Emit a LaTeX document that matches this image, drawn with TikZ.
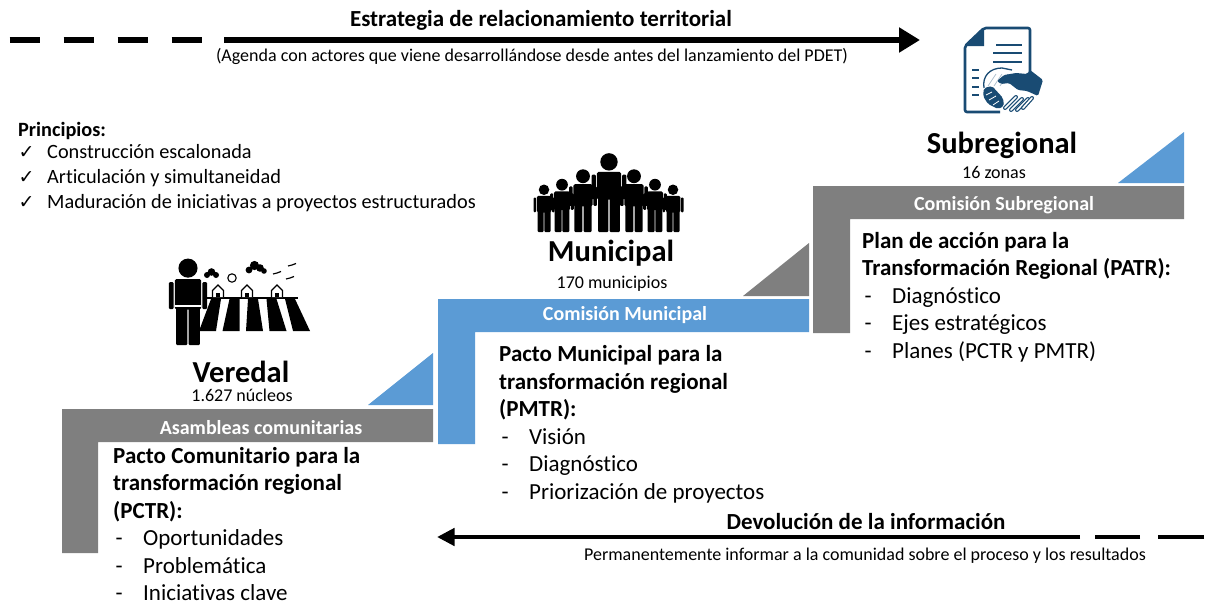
\documentclass[tikz,border=0pt]{standalone}
\usepackage{fontspec}
\setmainfont{Carlito}[Ligatures={NoCommon}]
\newfontfamily\symfont{DejaVu Sans}
\usetikzlibrary{arrows.meta}

\definecolor{stepblue}{HTML}{5B9BD5}
\definecolor{stepgray}{HTML}{7F7F7F}
\definecolor{docblue}{RGB}{25,75,115}

% list line: dash, then text
\newcommand{\itemline}[1]{\hspace*{2.5pt}\makebox[27.5pt][l]{-}#1}
\newcommand{\checkline}[1]{\makebox[29pt][l]{\hspace*{0.5pt}\symfont\fontsize{19}{19}\selectfont ✓}#1}

\tikzset{
  level/.style={anchor=base, inner sep=0pt, font=\bfseries\fontsize{30.5}{36}\selectfont},
  count/.style={anchor=base, inner sep=0pt, font=\fontsize{18}{22}\selectfont},
  barlabel/.style={anchor=base, inner sep=0pt, text=white, font=\bfseries\fontsize{20}{24}\selectfont},
  block/.style={anchor=base west, inner sep=0pt, font=\fontsize{23}{27.5}\selectfont},
  headline/.style={anchor=base, inner sep=0pt, font=\bfseries\fontsize{23}{27}\selectfont},
  subline/.style={anchor=base, inner sep=0pt, font=\fontsize{18}{22}\selectfont},
  person/.pic={
    \fill (0,-8.45) circle (1.05);
    \fill[rounded corners=1.5pt] (-1.45,-7.25) rectangle (1.45,-3.9);
    \fill[rounded corners=1pt] (-2.1,-6.9) rectangle (-1.58,-3.95);
    \fill[rounded corners=1pt] (1.58,-6.9) rectangle (2.1,-3.95);
    \fill[rounded corners=1pt] (-1.3,-4.2) rectangle (-0.08,0);
    \fill[rounded corners=1pt] (0.08,-4.2) rectangle (1.3,0);
  }
}

\begin{document}
\begin{tikzpicture}[x=1pt,y=-1pt]
    \useasboundingbox (0,0) rectangle (1205,605);

    % Steps
    \fill[stepgray] (62,409) -- (433,409) -- (433,442) -- (98,442) -- (98,553) -- (62,553) -- cycle;
    \fill[stepblue] (368,405) -- (433,405) -- (433,353) -- cycle;
    \fill[stepblue] (438,299) -- (809,299) -- (809,332) -- (475,332) -- (475,444) -- (438,444) -- cycle;
    \fill[stepgray] (743,296) -- (809,296) -- (809,243) -- cycle;
    \fill[stepgray] (813,186) -- (1184,186) -- (1184,219) -- (850,219) -- (850,333) -- (813,333) -- cycle;
    \fill[stepblue] (1118,183) -- (1184,183) -- (1184,132) -- cycle;

    % Bar labels
    \node[barlabel] (asambleas) at (261,434) {Asambleas comunitarias};
    \node[barlabel] (comMunicipal) at (625,320.5) {Comisión Municipal};
    \node[barlabel] (comSubregional) at (1004,210) {Comisión Subregional};

    % Levels
    \node[level] (veredal) at (241,382.5) {Veredal};
    \node[count] (veredalCount) at (242,401.5) {1.627 núcleos};
    \node[level] (municipal) at (611,261.5) {Municipal};
    \node[count] (municipalCount) at (612,288) {170 municipios};
    \node[level] (subregional) at (1002,153) {Subregional};
    \node[count] (subregionalCount) at (994,178) {16 zonas};

    % Blocks
    \node[block] (pctr) at (113,463) {\begin{tabular}[t]{@{}l@{}}
      \textbf{Pacto Comunitario para la}\\
      \textbf{transformación regional}\\
      \textbf{(PCTR):}\\
      \itemline{Oportunidades}\\
      \itemline{Problemática}\\
      \itemline{Iniciativas clave}
    \end{tabular}};
    \node[block] (pmtr) at (499,361.5) {\begin{tabular}[t]{@{}l@{}}
      \textbf{Pacto Municipal para la}\\
      \textbf{transformación regional}\\
      \textbf{(PMTR):}\\
      \itemline{Visión}\\
      \itemline{Diagnóstico}\\
      \itemline{Priorización de proyectos}
    \end{tabular}};
    \node[block] (patr) at (862,248) {\begin{tabular}[t]{@{}l@{}}
      \textbf{Plan de acción para la}\\
      \textbf{Transformación Regional (PATR):}\\
      \itemline{Diagnóstico}\\
      \itemline{Ejes estratégicos}\\
      \itemline{Planes (PCTR y PMTR)}
    \end{tabular}};

    % Principios
    \node[anchor=base west, inner sep=0pt, font=\fontsize{20.3}{25}\selectfont] (principios) at (18,136.5) {\begin{tabular}[t]{@{}l@{}}
      \textbf{Principios:}\\[-3pt]
      \checkline{Construcción escalonada}\\
      \checkline{Articulación y simultaneidad}\\
      \checkline{Maduración de iniciativas a proyectos estructurados}
    \end{tabular}};

    % Top arrow
    \coordinate (relStart) at (9.6,40);
    \coordinate (relDashEnd) at (202,40);
    \coordinate (relSolid) at (224,40);
    \coordinate (relEnd) at (920,40);
    \draw[line width=5.3pt, dash pattern=on 30.5pt off 23.5pt] (relStart) -- (relDashEnd);
    \draw[line width=5.3pt, -{Triangle[length=21pt,width=24pt]}] (relSolid) -- (relEnd);
    \node[headline] (estrategia) at (541,27) {Estrategia de relacionamiento territorial};
    \node[subline] (agenda) at (532,61) {(Agenda con actores que viene desarrollándose desde antes del lanzamiento del PDET)};

    % Bottom arrow
    \coordinate (devStart) at (1204,537);
    \coordinate (devDashEnd) at (1095,537);
    \coordinate (devSolid) at (1080,537);
    \coordinate (devEnd) at (437,537);
    \draw[line width=4.7pt, dash pattern=on 46.5pt off 17.5pt] (devStart) -- (devDashEnd);
    \draw[line width=4.7pt, -{Triangle[length=17.5pt,width=17pt]}] (devSolid) -- (devEnd);
    \node[headline] (devolucion) at (866,529) {Devolución de la información};
    \node[subline] (permanente) at (865,560) {Permanentemente informar a la comunidad sobre el proceso y los resultados};

    % Family icon
    \foreach \px/\r in {544/5.0, 562/5.6, 583/6.6, 609/8.3, 634/6.6, 655/5.6, 673/5.0}
      \pic[scale=\r] at (\px,232) {person};

    % Farmer and fields icon
    \pic[scale=9.1] at (188,345) {person};
    \draw[white, line width=1.2pt] (175,306) -- (201,306);
    \draw[line width=2pt] (206,298) -- (298,298);
    \foreach \i in {0,...,4}
      \fill ({211+18.5*\i},299) -- ({221+18.5*\i},299) -- ({216+23.5*\i},331) -- ({199+23.5*\i},331) -- cycle;
    \foreach \hx in {218,247,277} {
      \filldraw[fill=white, line width=1.4pt] ({\hx-5.5},297) -- ({\hx-5.5},290.5) -- (\hx,285) -- ({\hx+5.5},290.5) -- ({\hx+5.5},297);
      \fill ({\hx-1.8},292.5) rectangle ({\hx+1.8},297);
    }
    \draw[line width=1.1pt] (232,278) circle (4.2);
    \fill (207,275) circle (3) (211.5,272) circle (3.8) (216,275) circle (3);
    \fill (249,270) circle (3.4) (254.5,265.5) circle (4.6) (260,268) circle (3.8) (264,271) circle (2.8);
    \foreach \bx/\by in {292/265, 277/273, 290/278}
      \draw[line width=1.2pt] ({\bx-4},{\by+1}) -- (\bx,\by) -- ({\bx+4},{\by-1.5});

    % Document with handshake
    \draw[docblue, line width=2.6pt, rounded corners=2pt] (1000,112) -- (965,112) -- (965,46) -- (984,28) -- (1030,28) -- (1030,72);
    \fill[docblue] (965,46) -- (984,28) -- (984,46) -- cycle;
    \foreach \lx/\ly in {996/45, 993/53, 993/62}
      \draw[docblue, line width=2pt] (\lx,\ly) -- (1022,\ly);
    \foreach \ly in {70,78,87,95}
      \draw[docblue, line width=2pt] (972,\ly) -- (979,\ly);
    \draw[docblue, line width=1.3pt] (984,88) .. controls (982,76) and (990,68) .. (1002,68) -- (1012,70);
    \foreach \k in {0,1,2}
      \draw[docblue!35, line width=0.8pt] ({988+6*\k},86) -- ({996+6*\k},74);
    \foreach \ax/\ay/\bx/\by in {1005/108/1016/97, 1011/110/1022/99, 1017/110/1028/99, 1023/108/1032/98} {
      \draw[docblue, line width=4pt, line cap=round] (\ax,\ay) -- (\bx,\by);
      \draw[white, line width=1.6pt, line cap=round] (\ax,\ay) -- (\bx,\by);
    }
    \fill[docblue, rounded corners=1.5pt] (997,81) -- (1004,75) -- (1016,73) -- (1027,74) -- (1030,70) -- (1043,80) -- (1038,96) -- (1027,91) -- (1018,90) -- (1009,83) -- (1001,84) -- cycle;
    \fill[docblue, rounded corners=2pt] (984,88) -- (992,86) -- (1003,98) -- (1004,106) -- (998,109) -- (988,104) -- (983,96) -- cycle;
    \draw[white, line width=0.8pt] (986,95) -- (992,92) (989,100) -- (996,96) (993,105) -- (999,101);
\end{tikzpicture}
\end{document}
